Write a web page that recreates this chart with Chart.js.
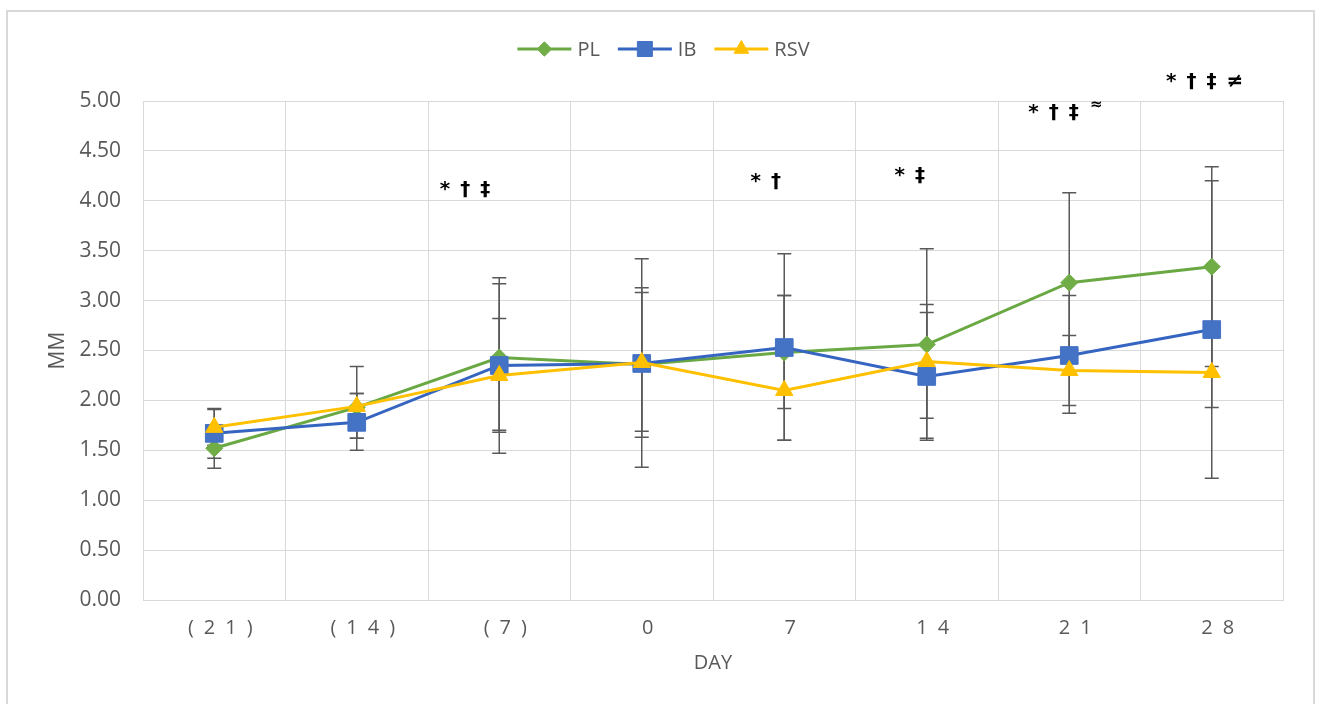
<!DOCTYPE html>
<html>
<head>
<meta charset="utf-8">
<script src="https://cdn.jsdelivr.net/npm/chart.js@4.4.1/dist/chart.umd.min.js"></script>
<style>
  html, body { margin: 0; padding: 0; background: #fff; overflow: hidden; }
  #wrap { position: relative; width: 1319px; height: 704px; }
  #wrap canvas { position: absolute; left: 0; top: 0; }
  #frame { position: absolute; left: 6px; top: 10px; width: 1309px; height: 720px;
           border: 2px solid #d9d9d9; box-sizing: border-box; pointer-events: none; }
</style>
</head>
<body>
<div id="wrap">
  <canvas id="chart" width="1319" height="704"></canvas>
  <div id="frame"></div>
</div>
<script>
  // ─── Data ───────────────────────────────────────────────────────────────────
  const days = ["(21)", "(14)", "(7)", "0", "7", "14", "21", "28"];

  const plMean   = [1.52, 1.93, 2.43, 2.36, 2.48, 2.56, 3.18, 3.34];
  const plPlus   = [0.20, 0.41, 0.80, 1.06, 0.57, 0.96, 0.90, 1.00];
  const plMinus  = [0.20, 0.31, 0.73, 1.03, 0.88, 0.96, 0.90, 1.00];

  const ibMean   = [1.67, 1.78, 2.35, 2.37, 2.53, 2.24, 2.45, 2.71];
  const ibPlus   = [0.25, 0.29, 0.82, 0.76, 0.94, 0.64, 0.60, 1.49];
  const ibMinus  = [0.25, 0.28, 0.88, 0.74, 0.61, 0.62, 0.58, 1.49];

  const rsvMean  = [1.73, 1.94, 2.25, 2.38, 2.10, 2.39, 2.30, 2.28];
  const rsvPlus  = [0.18, 0.13, 0.57, 0.70, 0.95, 0.57, 0.35, 1.06];
  const rsvMinus = [0.18, 0.32, 0.57, 0.69, 0.50, 0.57, 0.35, 0.35];

  // significance marks: text, category index (fractional), y value
  const notes  = ["* † ‡", "* †", "* ‡", "* † ‡", "≈", "* † ‡ ≠"];
  const noteAt = [1.76, 3.87, 4.88, 5.89, 6.19, 6.95];
  const noteY  = [4.11, 4.19, 4.25, 4.88, 4.96, 5.19];

  const FONT = '"Open Sans", "Noto Sans", sans-serif';
  const GRID = "#d9d9d9";
  const TEXT = "#595959";

  // ─── Plugins ────────────────────────────────────────────────────────────────

  // Excel-like vertical error bars, drawn behind the lines
  const errorBars = {
    id: "errorBars",
    beforeDatasetsDraw(chart) {
      const { ctx } = chart;
      const y = chart.scales.y;
      ctx.save();
      ctx.strokeStyle = "#595959";
      ctx.lineWidth = 1.5;
      chart.data.datasets.forEach((ds, di) => {
        chart.getDatasetMeta(di).data.forEach((pt, i) => {
          const top = y.getPixelForValue(ds.data[i] + ds.errPlus[i]);
          const bot = y.getPixelForValue(ds.data[i] - ds.errMinus[i]);
          ctx.beginPath();
          ctx.moveTo(pt.x, top); ctx.lineTo(pt.x, bot);
          ctx.moveTo(pt.x - 7, top); ctx.lineTo(pt.x + 7, top);
          ctx.moveTo(pt.x - 7, bot); ctx.lineTo(pt.x + 7, bot);
          ctx.stroke();
        });
      });
      ctx.restore();
    },
  };

  // legend with line + marker swatches
  const lineLegend = {
    id: "lineLegend",
    afterDraw(chart) {
      const ctx = chart.ctx;
      const lineLen = 54, gapText = 6, gapItem = 18, cy = 49;
      ctx.save();
      ctx.font = "20px " + FONT;
      const items = chart.data.datasets.map((ds) => ({ ds, w: lineLen + gapText + ctx.measureText(ds.label).width }));
      const total = items.reduce((s, it) => s + it.w, 0) + gapItem * (items.length - 1);
      let x = chart.width / 2 - total / 2 + 4;
      items.forEach(({ ds, w }) => {
        ctx.strokeStyle = ds.borderColor;
        ctx.lineWidth = 3;
        ctx.beginPath(); ctx.moveTo(x, cy); ctx.lineTo(x + lineLen, cy); ctx.stroke();
        ctx.fillStyle = ds.pointBackgroundColor;
        ctx.strokeStyle = ds.pointBorderColor;
        ctx.lineWidth = 1;
        Chart.helpers.drawPoint(ctx, { pointStyle: ds.pointStyle, radius: ds.pointRadius * 0.85, borderWidth: 1 }, x + lineLen / 2, cy);
        ctx.fillStyle = TEXT;
        ctx.textAlign = "left";
        ctx.textBaseline = "middle";
        ctx.fillText(ds.label, x + lineLen + gapText, cy + 1);
        x += w + gapItem;
      });
      ctx.restore();
    },
  };

  // significance symbols above the points
  const sigNotes = {
    id: "sigNotes",
    afterDraw(chart) {
      const { ctx } = chart;
      const { x, y } = chart.scales;
      ctx.save();
      ctx.fillStyle = "#000";
      ctx.textAlign = "center";
      ctx.textBaseline = "middle";
      notes.forEach((t, i) => {
        ctx.font = (t.length === 1 ? "bold 15px " : "bold 20px ") + '"DejaVu Sans", sans-serif';
        ctx.fillText(t.replace(/ /g, "\u2002"), x.getPixelForValue(noteAt[i]), y.getPixelForValue(noteY[i]));
      });
      ctx.restore();
    },
  };

  // ─── Chart ──────────────────────────────────────────────────────────────────

  function series(label, data, plus, minus, color, lineColor, style, radius, order) {
    return {
      label, data, errPlus: plus, errMinus: minus, order,
      borderColor: lineColor, borderWidth: 3, tension: 0,
      pointStyle: style, pointRadius: radius, pointHoverRadius: radius,
      pointBackgroundColor: color, pointBorderColor: color, pointBorderWidth: 1,
    };
  }

  new Chart(document.getElementById("chart"), {
    type: "line",
    data: {
      labels: days,
      datasets: [
        series("PL", plMean, plPlus, plMinus, "#70AD47", "#6AA843", "rectRot", 8.5, 3),
        series("IB", ibMean, ibPlus, ibMinus, "#4472C4", "#3565C0", "rect", 12.5, 2),
        series("RSV", rsvMean, rsvPlus, rsvMinus, "#FFC000", "#FFC000", "triangle", 10, 1),
      ],
    },
    options: {
      responsive: false,
      animation: false,
      layout: { padding: { top: 101, right: 36, left: 0, bottom: 0 } },
      plugins: { legend: { display: false }, tooltip: { enabled: false } },
      scales: {
        x: {
          offset: true,
          grid: { offset: true, color: GRID, drawTicks: false },
          border: { color: GRID },
          ticks: {
            color: TEXT, font: { family: FONT, size: 20 }, padding: 16, labelOffset: 6,
            callback: (v, i) => days[i].split("").join("\u2002"),
          },
          title: { display: true, text: "DAY", color: TEXT, font: { family: FONT, size: 20 }, padding: { top: 0, bottom: 29 } },
          afterFit: (s) => { s.height = 104; },
        },
        y: {
          min: 0, max: 5,
          grid: { color: GRID, drawTicks: false },
          border: { display: false },
          ticks: { stepSize: 0.5, color: TEXT, font: { family: FONT, size: 21 }, padding: 22, callback: (v) => v.toFixed(2) },
          title: { display: true, text: "MM", color: TEXT, font: { family: FONT, size: 21 }, padding: { top: 45, bottom: 0 } },
          afterFit: (s) => { s.width = 143; },
        },
      },
    },
    plugins: [errorBars, lineLegend, sigNotes],
  });
</script>
</body>
</html>
